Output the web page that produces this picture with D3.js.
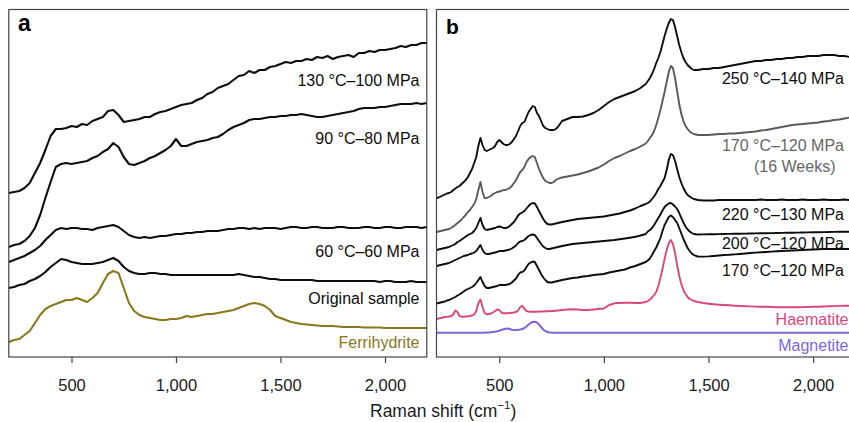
<!DOCTYPE html>
<html>
<head>
<meta charset="utf-8">
<script src="https://cdn.jsdelivr.net/npm/d3@7"></script>
<style>
  html, body { margin: 0; padding: 0; background: #fff; }
  svg { display: block; font-family: "Liberation Sans", Arial, Helvetica, sans-serif; }
</style>
</head>
<body>
<svg id="chart" width="849" height="422"></svg>
<script>
/* global d3 */
'use strict';

// ─── Data: Raman spectra, offset intensities (a.u.) ─────────────────────────

// Panel a: Raman shift (cm-1) sampled every 25
var shiftA = [
  200, 225, 250, 275, 300, 325, 350, 375, 400, 425,
  450, 475, 500, 525, 550, 575, 600, 625, 650, 675,
  700, 725, 750, 775, 800, 825, 850, 875, 900, 925,
  950, 975, 1000, 1025, 1050, 1075, 1100, 1125, 1150, 1175,
  1200, 1225, 1250, 1275, 1300, 1325, 1350, 1375, 1400, 1425,
  1450, 1475, 1500, 1525, 1550, 1575, 1600, 1625, 1650, 1675,
  1700, 1725, 1750, 1775, 1800, 1825, 1850, 1875, 1900, 1925,
  1950, 1975, 2000, 2025, 2050, 2075, 2100, 2125, 2150, 2175,
  2200
];

var int130C100MPa = [
  164, 165, 166, 169, 174, 184, 194, 207, 221, 228,
  228, 229, 231, 230, 233, 232, 236, 238, 240, 246,
  247, 242, 235, 236, 237, 238, 240, 240, 243, 245,
  246, 248, 250, 252, 253, 254, 257, 259, 263, 265,
  269, 271, 273, 277, 281, 282, 286, 284, 287, 287,
  290, 291, 293, 295, 294, 296, 296, 298, 297, 300,
  299, 301, 298, 300, 301, 302, 300, 304, 304, 306,
  305, 307, 307, 308, 309, 311, 310, 312, 312, 314,
  314
];

var int90C80MPa = [
  110, 112, 113, 116, 121, 129, 142, 159, 175, 190,
  193, 194, 193, 194, 195, 196, 199, 201, 205, 208,
  214, 210, 200, 193, 192, 194, 196, 199, 201, 204,
  207, 211, 218, 211, 211, 213, 215, 216, 217, 219,
  220, 223, 227, 230, 232, 234, 237, 238, 238, 239,
  240, 240, 241, 241, 242, 242, 243, 242, 241, 240,
  240, 241, 242, 243, 244, 245, 246, 248, 249, 249,
  249, 250, 250, 251, 252, 253, 253, 253, 254, 253,
  254
];

var int60C60MPa = [
  95, 97, 99, 101, 104, 107, 111, 117, 122, 127,
  129, 128, 129, 129, 128, 128, 127, 129, 130, 131,
  132, 130, 126, 122, 120, 119, 120, 119, 120, 121,
  121, 122, 123, 123, 124, 124, 125, 125, 126, 126,
  126, 127, 128, 128, 129, 129, 128, 129, 128, 129,
  129, 129, 128, 129, 130, 130, 129, 129, 130, 130,
  129, 129, 129, 130, 130, 129, 129, 129, 130, 130,
  129, 129, 130, 130, 129, 129, 130, 130, 130, 129,
  130
];

var intOriginal = [
  69, 70, 72, 73, 76, 78, 81, 85, 90, 94,
  98, 97, 95, 94, 93, 93, 93, 94, 95, 97,
  99, 96, 90, 86, 84, 83, 83, 84, 84, 83,
  83, 82, 82, 82, 82, 82, 82, 82, 82, 82,
  82, 82, 82, 82, 83, 82, 81, 80, 80, 79,
  78, 78, 77, 77, 77, 77, 77, 77, 77, 76,
  76, 76, 76, 76, 76, 76, 76, 76, 76, 76,
  76, 75, 76, 76, 75, 75, 75, 76, 75, 75,
  75
];

var intFerrihydrite = [
  15, 17, 18, 22, 26, 34, 42, 48, 51, 53,
  55, 57, 57, 59, 57, 55, 59, 64, 74, 83,
  86, 84, 69, 54, 46, 42, 40, 39, 38, 37,
  37, 38, 38, 39, 41, 40, 41, 42, 43, 43,
  44, 45, 46, 47, 49, 51, 53, 54, 53, 51,
  47, 41, 39, 37, 35, 34, 33, 32.5, 32, 31.5,
  31, 31, 31, 30.5, 30, 30, 30, 30, 29.5, 29.5,
  29.5, 29.5, 29, 29, 29, 29, 29, 29, 29, 29,
  29
];

// Panel b: Raman shift (cm-1), finer around the sharp bands
var shiftB = [
  200, 210, 220, 230, 240, 250, 260, 270, 280, 290,
  300, 310, 320, 330, 340, 350, 360, 370, 380, 390,
  400, 410, 420, 430, 440, 450, 460, 470, 480, 490,
  500, 510, 520, 530, 540, 550, 560, 570, 580, 590,
  600, 610, 620, 630, 640, 650, 660, 670, 680, 690,
  700, 710, 720, 730, 740, 750, 760, 770, 780, 790,
  800, 825, 850, 875, 900, 925, 950, 975, 1000, 1025,
  1050, 1075, 1100, 1125, 1150, 1175, 1200, 1210, 1220, 1230,
  1240, 1250, 1260, 1270, 1280, 1290, 1300, 1310, 1320, 1330,
  1340, 1350, 1360, 1370, 1380, 1390, 1400, 1410, 1420, 1430,
  1440, 1450, 1475, 1500, 1525, 1550, 1575, 1600, 1625, 1650,
  1675, 1700, 1725, 1750, 1775, 1800, 1825, 1850, 1875, 1900,
  1925, 1950, 1975, 2000, 2025, 2050, 2075, 2100, 2125, 2150,
  2175, 2200
];

var int250C140MPa = [
  159, 159.5, 160.5, 161.5, 162.5, 163.5, 164, 165, 167, 168.5,
  170, 171, 173, 175, 177, 180, 184, 188, 194, 200,
  211, 219, 212, 207, 206, 207, 208, 209, 211, 215,
  217, 215, 213, 212, 212, 213, 215, 218, 221, 226,
  231, 234, 235, 240, 245, 248, 251, 250, 244, 241,
  236, 231, 229, 228, 227, 227, 227, 228, 230, 233,
  236, 238, 240, 240, 240.5, 242, 244, 247, 251, 255,
  258, 260, 262, 264, 266, 269, 273, 276, 279, 283,
  288, 294, 299, 305, 313, 321, 328, 334, 338, 337,
  330, 321, 312, 305, 299, 295, 292, 290, 288, 287,
  287, 287, 288, 288, 289, 289, 290, 291, 292, 293,
  294, 295, 296, 296, 297, 297, 298, 298, 299, 299,
  300, 300, 301, 301, 301, 302, 302, 302, 301, 301,
  300, 300
];

var int170C120MPa16Weeks = [
  125, 125.5, 126, 126.5, 127, 127.5, 128, 129, 130.5, 132,
  134, 135.5, 137.5, 140, 142, 145, 147, 150, 153, 158,
  167, 175, 165, 159, 159, 160, 161, 163, 164, 165,
  165.5, 166, 167, 167, 168, 169, 171, 174, 177, 181,
  185, 187, 190, 195, 198, 200, 201, 200, 194, 188,
  183, 179, 176, 175, 174, 174, 175, 177, 178, 179,
  179.5, 180.5, 181.5, 182.5, 184, 185.5, 187.5, 189.5, 192.5, 196,
  199, 201, 203.5, 206, 208, 210.5, 213.5, 216, 219, 222,
  226, 232, 239, 247, 256, 265, 275, 285, 291, 289,
  279, 266, 253, 243, 236, 231, 228, 225.5, 224, 223,
  222.5, 222, 222, 222, 222.5, 223, 223, 223.5, 223.5, 224,
  224.5, 225, 225.5, 226.5, 227, 228, 229, 230, 231, 232,
  232.5, 233, 233.5, 234, 234.5, 235.5, 236, 237, 237.5, 238.5,
  239.5, 240
];

var int220C130MPa = [
  107, 107.5, 108, 108.5, 109, 109.5, 110, 111, 112, 113,
  115, 116, 117.5, 119, 120.5, 122, 123, 124, 126, 129,
  134, 139, 132, 128, 127, 127.5, 128, 128.5, 129, 130,
  130.5, 130, 129, 129, 129.5, 131, 133, 135, 138, 141.5,
  143.5, 144.5, 146, 148.5, 151, 153, 154, 153.5, 150, 146,
  142, 138, 135, 133, 132.5, 132.5, 133, 133.5, 134, 134.5,
  135, 136, 137, 138, 138.5, 139, 139.5, 140, 140.5, 141.5,
  142.5, 143.5, 145, 146.5, 148.5, 151, 153, 154, 155.5, 158,
  160.5, 164, 168, 171, 175, 179, 187, 197, 203, 202,
  196, 188, 180, 174, 169, 165, 162, 160.5, 159, 158,
  157.5, 157, 156.5, 156.5, 156.5, 157, 157, 157, 157, 157,
  157, 157, 157, 157.5, 157, 157, 157, 157.5, 157, 157,
  157, 157.5, 157, 157, 157, 157.5, 157, 157, 157, 157.5,
  157, 157
];

var int200C120MPa = [
  91, 91.5, 92, 92.5, 93, 93.5, 94, 95, 96, 97,
  98, 99, 100, 101, 101.5, 102, 103, 103.5, 104.5, 106,
  109, 112, 107, 104, 103, 103, 103.5, 104, 104.5, 105,
  106, 106, 106, 106.5, 107, 107.5, 108.5, 110, 111.5, 114,
  115.5, 116, 117, 119, 121, 122, 122.5, 122, 119, 116,
  113, 110.5, 109, 108, 108, 108.5, 109, 109.5, 110, 110.5,
  111, 112, 113, 113.5, 114, 114.5, 115, 115.5, 116, 116.5,
  117, 117.7, 118.5, 119.3, 120.2, 121.5, 123, 125.5, 127, 129,
  132, 135.5, 139, 142.5, 146.5, 150, 152, 153.5, 154, 152.5,
  150.5, 148, 144, 139, 134.5, 130.5, 127.5, 125.5, 124, 123,
  122.7, 122.5, 122.6, 122.7, 122.8, 122.9, 123, 123.1, 123.2, 123.3,
  123.4, 123.5, 123.6, 123.7, 123.8, 123.9, 124, 124.1, 124.2, 124.3,
  124.4, 124.5, 124.6, 124.7, 124.8, 124.9, 125, 125.1, 125.2, 125.3,
  125.3, 125.3
];

var int170C120MPa = [
  53.5, 54, 54.5, 55, 55.5, 56.5, 57, 58, 59, 60,
  61.5, 62.5, 64, 65.5, 67, 68, 69, 70, 71.5, 74,
  77, 80, 75, 71, 69, 69, 69.5, 70, 70.5, 71,
  72, 72, 72, 72, 72.5, 73, 74.5, 76.5, 78.5, 82,
  84.5, 85, 86.5, 90, 93, 94.5, 95.5, 95, 91, 87,
  83, 79.5, 77, 75, 74.5, 74.5, 75, 75.5, 76, 76.5,
  77, 78, 79, 79.5, 80.5, 81, 82, 82.5, 83, 84.5,
  85.5, 86.5, 87.5, 89.5, 91, 93, 95, 96.5, 98.7, 102,
  106, 109.5, 114, 119, 126, 132, 136, 140, 141.5, 140,
  137, 134, 129, 123.5, 118, 113.5, 109, 106, 103.5, 102,
  101, 100.5, 100.4, 100.6, 101, 101.5, 102, 102.2, 102.6, 103,
  103.5, 104, 104.4, 104.7, 105, 105.4, 105.7, 106, 106.2, 106.5,
  106.7, 107, 107.2, 107.5, 107.7, 108, 108, 108, 108, 108,
  108, 108
];

var intHaematite = [
  38, 38.5, 39, 39.5, 40, 40.3, 40.5, 41, 42.5, 46.5,
  45, 41, 40.3, 40.3, 40.5, 40.7, 41, 41.5, 42.5, 46,
  54, 57.5, 50, 44, 42.7, 43, 43.5, 44.5, 46, 47.5,
  47, 44.5, 43.7, 43.7, 43.7, 44, 44.3, 44.5, 45, 46.5,
  50, 51.3, 48, 46, 45.5, 45.3, 45.3, 45.3, 45.3, 45.5,
  45.5, 45.5, 45.7, 45.7, 45.8, 46, 46, 46.3, 46.5, 46.7,
  47, 47.5, 47.7, 47.5, 47, 47, 47.5, 48, 48.5, 52,
  53.7, 54, 54.2, 54.2, 54, 54, 55, 56, 57.5, 59.5,
  62, 65, 71, 79, 88, 98, 107, 114, 117, 113,
  104, 92, 81, 73, 67, 63, 60, 58, 57, 56,
  55.5, 55, 54, 53.3, 52.7, 52.3, 52, 51.7, 51.3, 51,
  50.8, 50.6, 50.4, 50.3, 50.2, 50, 49.8, 49.8, 49.7, 49.7,
  49.8, 49.9, 50, 50.2, 50.3, 50.5, 50.7, 50.9, 51.1, 51.2,
  51.3, 51.3
];

var intMagnetite = [
  24.3, 24.3, 24.3, 24.3, 24.3, 24.3, 24.3, 24.3, 24.3, 24.3,
  24.3, 24.3, 24.3, 24.3, 24.3, 24.3, 24.3, 24.3, 24.3, 24.3,
  24.3, 24.3, 24.3, 24.3, 24.4, 24.5, 24.7, 25, 25.3, 25.7,
  26.2, 27, 27.7, 28.2, 28.5, 28, 27.3, 27, 27, 27.2,
  27.5, 28, 29, 30.5, 32.5, 34, 35, 35.3, 34.5, 32.5,
  30, 27.5, 26, 25, 24.6, 24.4, 24.3, 24.3, 24.3, 24.3,
  24.3, 24.3, 24.3, 24.3, 24.3, 24.3, 24.3, 24.3, 24.3, 24.3,
  24.3, 24.3, 24.3, 24.3, 24.3, 24.3, 24.3, 24.3, 24.3, 24.3,
  24.3, 24.3, 24.3, 24.3, 24.3, 24.3, 24.3, 24.3, 24.3, 24.3,
  24.3, 24.3, 24.3, 24.3, 24.3, 24.3, 24.3, 24.3, 24.3, 24.3,
  24.3, 24.3, 24.3, 24.3, 24.3, 24.3, 24.3, 24.3, 24.3, 24.3,
  24.3, 24.3, 24.3, 24.3, 24.3, 24.3, 24.3, 24.3, 24.3, 24.3,
  24.3, 24.3, 24.3, 24.3, 24.3, 24.3, 24.3, 24.3, 24.3, 24.3,
  24.3, 24.3
];

var shiftTicks = [500, 1000, 1500, 2000];

// ─── Styling ────────────────────────────────────────────────────────────────

var INK = '#0d0d0d';
var GREY = '#5a5a5a';
var OLIVE = '#88771b';
var PINK = '#d9487c';
var PURPLE = '#7d66dc';
var FRAME = '#444444';

var PLOT_TOP = 9.5;
var PLOT_BOTTOM = 357;
var INTENSITY_MAX = 347.5;

var panels = [
  {
    letter: 'a', letterX: 18, letterY: 31, letterSize: 23,
    x0: 8.8, x1: 426.8,
    shift: shiftA,
    series: [
      { values: int130C100MPa, color: INK, width: 2.1 },
      { values: int90C80MPa, color: INK, width: 2.1 },
      { values: int60C60MPa, color: INK, width: 2.1 },
      { values: intOriginal, color: INK, width: 2.1 },
      { values: intFerrihydrite, color: OLIVE, width: 2.1 }
    ],
    labels: [
      { text: '130 °C–100 MPa', x: 419.5, y: 85.5, color: INK },
      { text: '90 °C–80 MPa', x: 419.5, y: 144, color: INK },
      { text: '60 °C–60 MPa', x: 419.5, y: 256.5, color: INK },
      { text: 'Original sample', x: 419.5, y: 303.5, color: INK },
      { text: 'Ferrihydrite', x: 419.5, y: 348, color: OLIVE }
    ]
  },
  {
    letter: 'b', letterX: 446, letterY: 34, letterSize: 21,
    x0: 436.5, x1: 855,
    shift: shiftB,
    series: [
      { values: int250C140MPa, color: INK, width: 1.9 },
      { values: int170C120MPa16Weeks, color: GREY, width: 1.9 },
      { values: int220C130MPa, color: INK, width: 1.9 },
      { values: int200C120MPa, color: INK, width: 1.9 },
      { values: int170C120MPa, color: INK, width: 1.9 },
      { values: intHaematite, color: PINK, width: 1.9 },
      { values: intMagnetite, color: PURPLE, width: 2 }
    ],
    labels: [
      { text: '250 °C–140 MPa', x: 844, y: 83.5, color: INK },
      { text: '170 °C–120 MPa', x: 844, y: 150.5, color: '#666666' },
      { text: '(16 Weeks)', x: 835.5, y: 172, color: '#666666' },
      { text: '220 °C–130 MPa', x: 844, y: 220, color: INK },
      { text: '200 °C–120 MPa', x: 844, y: 249, color: INK },
      { text: '170 °C–120 MPa', x: 844, y: 275.5, color: INK },
      { text: 'Haematite', x: 848.5, y: 325, color: PINK },
      { text: 'Magnetite', x: 848.5, y: 351, color: PURPLE }
    ]
  }
];

// ─── Drawing ────────────────────────────────────────────────────────────────

var svg = d3.select('#chart');
svg.append('rect').attr('width', 849).attr('height', 422).attr('fill', '#fff');

var y = d3.scaleLinear().domain([0, INTENSITY_MAX]).range([PLOT_BOTTOM, PLOT_TOP]);

panels.forEach(function (p) {
  var x = d3.scaleLinear().domain([200, 2200]).range([p.x0, p.x1]);
  var g = svg.append('g');

  var line = d3.line()
    .x(function (d, i) { return x(p.shift[i]); })
    .y(function (d) { return y(d); });

  g.selectAll('path.spectrum')
    .data(p.series)
    .enter().append('path')
    .attr('class', 'spectrum')
    .attr('d', function (s) { return line(s.values); })
    .attr('fill', 'none')
    .attr('stroke', function (s) { return s.color; })
    .attr('stroke-width', function (s) { return s.width; })
    .attr('stroke-linejoin', 'round');

  // frame around the panel (left, top, right, bottom)
  g.append('rect')
    .attr('x', p.x0).attr('y', PLOT_TOP)
    .attr('width', p.x1 - p.x0).attr('height', PLOT_BOTTOM - PLOT_TOP)
    .attr('fill', 'none')
    .attr('stroke', FRAME)
    .attr('stroke-width', 1.2);

  var axis = d3.axisBottom(x)
    .tickValues(shiftTicks)
    .tickFormat(d3.format(','))
    .tickSize(6)
    .tickPadding(16);

  var ax = g.append('g')
    .attr('transform', 'translate(0,' + PLOT_BOTTOM + ')')
    .call(axis);
  ax.attr('font-family', null).attr('font-size', null);
  ax.select('.domain').remove();
  ax.selectAll('.tick line').attr('stroke', FRAME).attr('stroke-width', 1.2);
  ax.selectAll('.tick text')
    .attr('fill', '#1a1a1a')
    .style('font-size', '16.5px');

  g.selectAll('text.series-label')
    .data(p.labels)
    .enter().append('text')
    .attr('class', 'series-label')
    .attr('x', function (d) { return d.x; })
    .attr('y', function (d) { return d.y; })
    .attr('text-anchor', 'end')
    .attr('fill', function (d) { return d.color; })
    .style('font-size', '16px')
    .text(function (d) { return d.text; });

  g.append('text')
    .attr('x', p.letterX)
    .attr('y', p.letterY)
    .attr('font-weight', 'bold')
    .attr('fill', '#000')
    .style('font-size', p.letterSize + 'px')
    .text(p.letter);
});

// shared x-axis title
var title = svg.append('text')
  .attr('x', 370)
  .attr('y', 417)
  .attr('fill', '#1a1a1a')
  .style('font-size', '17.5px');
title.append('tspan').text('Raman shift (cm');
title.append('tspan').attr('dy', -8).style('font-size', '11.5px').text('−1');
title.append('tspan').attr('dy', 8).text(')');
</script>
</body>
</html>
